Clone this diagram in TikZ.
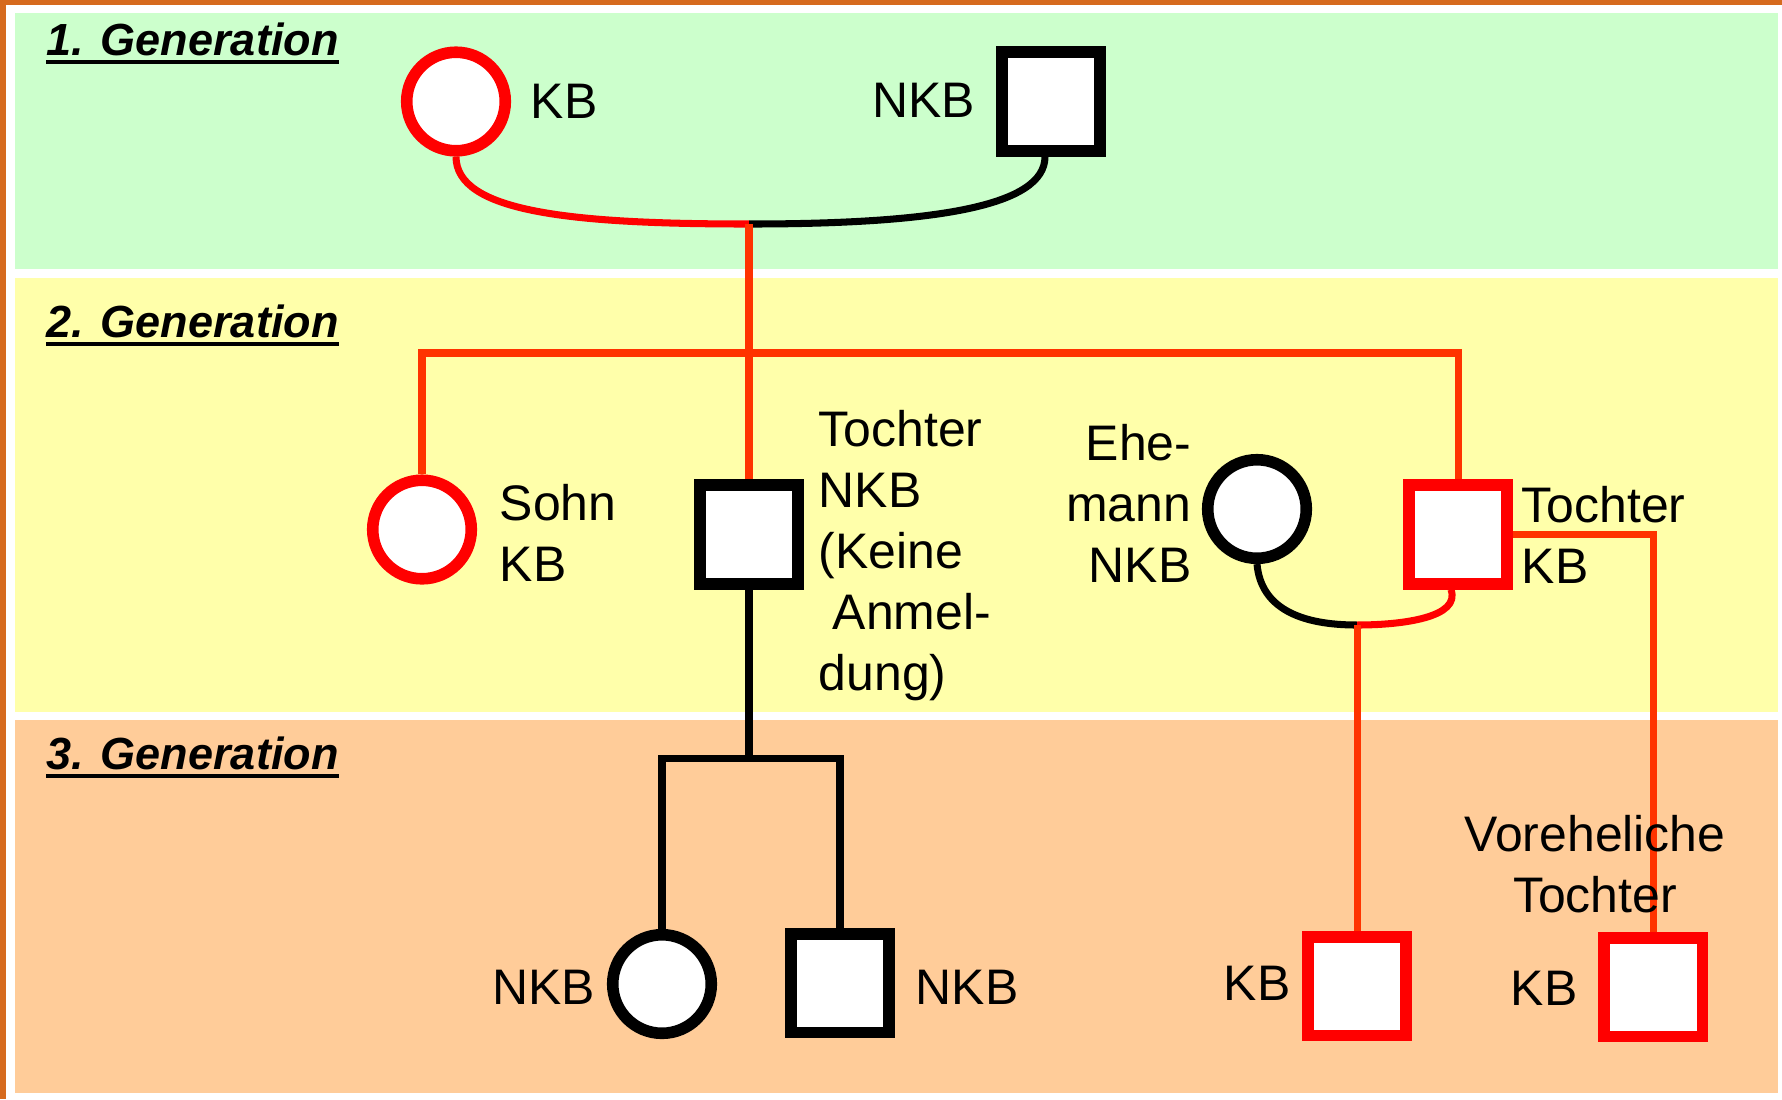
\documentclass[tikz,border=0pt]{standalone}
\usepackage{fontspec}
\setmainfont{Liberation Sans}
\definecolor{frameor}{HTML}{D66A1E}
\definecolor{bandgreen}{HTML}{CCFFCC}
\definecolor{bandyellow}{HTML}{FFFFAA}
\definecolor{bandpeach}{HTML}{FFCC99}
\definecolor{kbred}{HTML}{FF0000}
\definecolor{linered}{HTML}{FF3300}
\pgfdeclarelayer{bands}
\pgfdeclarelayer{lines}
\pgfsetlayers{bands,lines,main}
\tikzset{
  person/.style={draw, fill=white, line width=3.3pt, minimum size=0.985cm, inner sep=0pt},
  female/.style={person, circle},
  male/.style={person, rectangle},
  kb/.style={draw=kbred},
  nkb/.style={draw=black},
  lbl/.style={font=\fontsize{14.2}{17.3}\selectfont, inner sep=0pt},
  gentitle/.style={font=\fontsize{12.8}{15}\selectfont\bfseries\itshape, inner sep=0pt, anchor=base west},
  uline/.style={line width=1.15pt},
  conn/.style={line width=2pt},
  sibline/.style={conn, draw=linered},
  mredline/.style={conn, draw=kbred},
  mblackline/.style={conn, draw=black},
}
\begin{document}
\begin{tikzpicture}[x=0.01cm, y=-0.01cm]
\useasboundingbox (0,0) rectangle (1782,1099);
\begin{pgfonlayer}{bands}
\fill[white] (0,0) rectangle (1782,1099);
\fill[frameor] (0,0) rectangle (6,1099);
\fill[frameor] (0,0) rectangle (1782,5);
\fill[bandgreen] (14.5,13) rectangle (1778,269);
\fill[bandyellow] (15,278) rectangle (1778,712);
\fill[bandpeach] (15,720) rectangle (1778,1093);
\end{pgfonlayer}

% generation titles
\node[gentitle] (g1) at (46,55) {1. Generation};
\node[gentitle] (g2) at (46,337) {2. Generation};
\node[gentitle] (g3) at (46,769) {3. Generation};
\draw[uline] ([yshift=-1.9pt]g1.base west) -- ([yshift=-1.9pt]g1.base east);
\draw[uline] ([yshift=-1.9pt]g2.base west) -- ([yshift=-1.9pt]g2.base east);
\draw[uline] ([yshift=-1.9pt]g3.base west) -- ([yshift=-1.9pt]g3.base east);

% junction coordinates
\coordinate (j1) at (749,224);
\coordinate (sib) at (749,353);
\coordinate (c3) at (749,758);
\coordinate (j2) at (1357,625);

% generation 1
\node[female, kb] (kb1) at (456,101.5) {};
\node[male, nkb] (nkb1) at (1051,101.5) {};
\node[lbl, anchor=west] (kb1l) at (530,101) {KB};
\node[lbl, anchor=east] (nkb1l) at (976,100) {NKB};

% generation 2
\node[female, kb] (sohn) at (422,529.5) {};
\node[male, nkb] (tnkb) at (749,534.5) {};
\node[female, nkb] (ehe) at (1257,509) {};
\node[male, kb] (tkb) at (1458,534.5) {};
\node[lbl, anchor=north west, align=left] (sohnl) at (499,484) {Sohn\\KB};
\node[lbl, anchor=north west, align=left] (tnkbl) at (818,410) {Tochter\\NKB\\(Keine\\\hspace*{0.14cm}Anmel-\\dung)};
\node[lbl, anchor=north east, align=right] (ehel) at (1192,424) {Ehe-\\mann\\NKB};
\node[lbl, anchor=north west, align=left] (tkbl) at (1521,486) {Tochter\\KB};

% generation 3
\node[female, nkb] (nkbc) at (662,984) {};
\node[male, nkb] (nkbs) at (840,983) {};
\node[male, kb] (kb3a) at (1357,986) {};
\node[male, kb] (kb3b) at (1653,987) {};
\node[lbl, anchor=east] (nkbcl) at (596,987) {NKB};
\node[lbl, anchor=west] (nkbsl) at (915,987) {NKB};
\node[lbl, anchor=east] (kb3al) at (1291,983) {KB};
\node[lbl, anchor=east] (kb3bl) at (1578,988) {KB};
\node[lbl, anchor=north, align=center] (vorl) at (1595,815) {Voreheliche\\Tochter};

% connectors (under the nodes)
\begin{pgfonlayer}{lines}
\draw[mredline] (kb1.south) .. controls +(0,55) and +(-180,0) .. (j1);
\draw[mblackline] (j1) .. controls +(185,0) and +(0,50) .. ([xshift=-0.06cm]nkb1.south);
\draw[sibline] (j1) -- (tnkb.north);
\draw[sibline] (sohn.north) |- (sib) -| (tkb.north);
\draw[mblackline] (ehe.south) .. controls +(4,45) and +(-55,0) .. (j2);
\draw[mredline] (j2) .. controls +(45,0) and +(10,28) .. ([xshift=-0.07cm]tkb.south);
\draw[mblackline] (tnkb.south) -- (c3);
\draw[mblackline] (nkbc.north) |- (c3) -| (nkbs.north);
\draw[sibline] (j2) -- (kb3a.north);
\draw[sibline] (tkb.east) -| (kb3b.north);
\end{pgfonlayer}
\end{tikzpicture}
\end{document}
